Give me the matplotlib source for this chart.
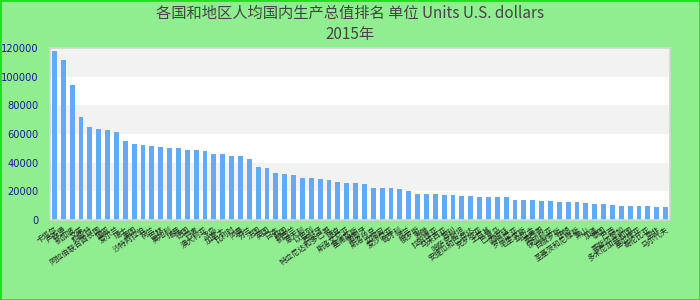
import matplotlib
matplotlib.use('Agg')
import matplotlib.pyplot as plt
import numpy as np

plt.rcParams['font.family'] = ['Noto Sans CJK SC', 'DejaVu Sans']

# Country names (x categories) and 2015 values in US dollars
countries = ['卡塔尔', '卢森堡', '新加坡', '文莱', '科威特', '阿拉伯联合酋长国', '挪威',
             '爱尔兰', '瑞士', '美国', '沙特阿拉伯', '荷兰', '巴林', '奥地利', '瑞典',
             '德国', '丹麦', '澳大利亚', '冰岛', '加拿大', '比利时', '阿曼', '芬兰',
             '法国', '英国', '日本', '韩国', '新西兰', '意大利', '以色列', '西班牙',
             '特立尼达和多巴哥', '捷克', '斯洛文尼亚', '塞浦路斯', '葡萄牙', '斯洛伐克',
             '立陶宛', '爱沙尼亚', '匈牙利', '波兰', '俄罗斯', '希腊', '拉脱维亚',
             '马来西亚', '智利', '哈萨克斯坦', '安提瓜和巴布达', '克罗地亚', '土耳其',
             '巴拿马', '阿根廷', '罗马尼亚', '毛里求斯', '乌拉圭', '墨西哥', '保加利亚',
             '白俄罗斯', '伊朗', '圣基茨和尼维斯', '黑山', '加蓬', '泰国', '巴西',
             '哥斯达黎加', '多米尼加共和国', '塞尔维亚', '哥伦比亚', '南非', '马尔代夫']
values = [118100, 111800, 94300, 72000, 65000, 63600, 62900, 61500, 55200, 53100,
          52400, 51700, 51000, 50300, 50300, 48900, 48900, 48200, 46100, 46100,
          44700, 44700, 42600, 37000, 36300, 32800, 32100, 31500, 29400, 29400,
          28700, 28000, 26600, 25900, 25900, 25200, 22400, 22400, 22400, 21700,
          20300, 18200, 18200, 18200, 17500, 17500, 16800, 16800, 16100, 16100,
          16100, 16100, 14000, 14000, 14000, 13300, 13300, 12600, 12600, 12600,
          11900, 11200, 11200, 10500, 9800, 9800, 9800, 9800, 9100, 9100]
yticks = [0, 20000, 40000, 60000, 80000, 100000, 120000]

fig = plt.figure(figsize=(7, 3), dpi=100, facecolor='#90ee90')
ax = fig.add_axes([50/700, 80/300, 620/700, 172/300])

# alternating background bands
for i in range(len(yticks) - 1):
    col = '#f2f2f2' if i % 2 == 1 else 'white'
    ax.axhspan(yticks[i], yticks[i+1], color=col, zorder=0, lw=0)

x = np.arange(len(countries))
ax.bar(x, values, width=0.56, color='#63a9f3', zorder=2)

ax.set_xlim(-0.5, len(countries) - 0.5)
ax.set_ylim(0, 120000)
ax.set_yticks(yticks)
ax.set_yticklabels([str(v) for v in yticks], color='#1a1a8c', fontsize=7.1,
                   family='DejaVu Sans')
ax.set_xticks(x)
ax.set_xticklabels(countries, rotation=35, ha='right', rotation_mode='anchor',
                   fontsize=5.5, color='#222222')
ax.tick_params(axis='both', length=0)
ax.tick_params(axis='y', pad=8)
ax.tick_params(axis='x', pad=4)
for s in ax.spines.values():
    s.set_color('#d4d4d4')
    s.set_linewidth(1.2)

fig.text(0.5, 0.955, '各国和地区人均国内生产总值排名 单位 Units U.S. dollars',
         ha='center', va='center', fontsize=11, color='#444444')
fig.text(0.5, 0.885, '2015年', ha='center', va='center', fontsize=11,
         color='#444444')

# outer border
fig.patches.append(plt.Rectangle((0, 0), 1, 1, transform=fig.transFigure,
                                 fill=False, edgecolor='#22dd22', lw=2))

fig.savefig('out.png', dpi=100, facecolor=fig.get_facecolor())
